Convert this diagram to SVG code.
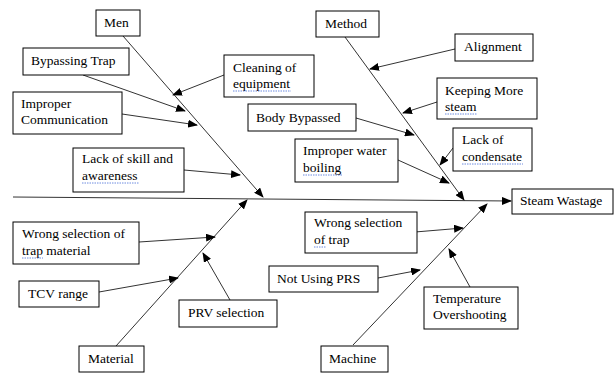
<svg xmlns="http://www.w3.org/2000/svg" width="614" height="374" viewBox="0 0 614 374">
<style>
.box{fill:#fff;stroke:#000;stroke-width:1}
text{font-size:13.5px;fill:#000}
.s{font-family:"Liberation Serif"}
.c{stroke:#333;stroke-width:1;fill:none;marker-end:url(#ah)}
.sq{stroke:#4a6fd8;stroke-width:0.8;fill:none;stroke-dasharray:1.5 1}
</style>
<defs>
<marker id="ah" markerUnits="userSpaceOnUse" markerWidth="10" markerHeight="8" refX="9" refY="4" orient="auto">
<path d="M0,0 L10,4 L0,8 Z" fill="#000"/>
</marker>
</defs>
<rect width="614" height="374" fill="#fff"/>
<g id="connectors">
<line class="c" x1="13" y1="197" x2="511" y2="201"/>
<line class="c" x1="123" y1="36" x2="263" y2="197"/>
<line class="c" x1="345" y1="37" x2="464" y2="200"/>
<line class="c" x1="116" y1="346" x2="247" y2="200"/>
<line class="c" x1="353" y1="345" x2="487" y2="204"/>
<line class="c" x1="224" y1="75" x2="173" y2="95"/>
<line class="c" x1="83" y1="75" x2="185" y2="111"/>
<line class="c" x1="122" y1="114" x2="197" y2="125"/>
<line class="c" x1="184" y1="170" x2="240" y2="175"/>
<line class="c" x1="455" y1="49" x2="370" y2="69"/>
<line class="c" x1="437" y1="102" x2="403" y2="113"/>
<line class="c" x1="356" y1="118" x2="414" y2="135"/>
<line class="c" x1="453" y1="148" x2="440" y2="165"/>
<line class="c" x1="398" y1="160" x2="449" y2="183"/>
<line class="c" x1="139" y1="242" x2="215" y2="237"/>
<line class="c" x1="99" y1="292" x2="178" y2="278"/>
<line class="c" x1="230" y1="300" x2="203" y2="253"/>
<line class="c" x1="415" y1="232" x2="463" y2="228"/>
<line class="c" x1="378" y1="278" x2="420" y2="270"/>
<line class="c" x1="470" y1="287" x2="449" y2="249"/>
</g>
<g id="men"><rect class="box" x="96" y="10" width="44" height="26"/><text class="s" style="font-family:'Liberation Serif'" x="104" y="27">Men</text></g>
<g id="bypassing-trap"><rect class="box" x="23" y="48" width="106" height="27"/><text class="s" style="font-family:'Liberation Serif'" x="31" y="65">Bypassing Trap</text></g>
<g id="cleaning"><rect class="box" x="224" y="55" width="90" height="42"/><text class="s" style="font-family:'Liberation Serif'" x="233" y="72">Cleaning of</text><text class="s" style="font-family:'Liberation Serif'" x="233" y="88">equipment</text><path class="sq" d="M233,91 h58"/></g>
<g id="improper-comm"><rect class="box" x="13" y="92" width="109" height="42"/><text class="s" style="font-family:'Liberation Serif'" x="21" y="108">Improper</text><text class="s" style="font-family:'Liberation Serif'" x="21" y="124">Communication</text></g>
<g id="lack-skill"><rect class="box" x="73" y="148" width="111" height="44"/><text class="s" style="font-family:'Liberation Serif'" x="82" y="163">Lack of skill and</text><text class="s" style="font-family:'Liberation Serif'" x="82" y="180">awareness</text><path class="sq" d="M82,183 h57"/></g>
<g id="method"><rect class="box" x="316" y="11" width="63" height="26"/><text class="s" style="font-family:'Liberation Serif'" x="325" y="28">Method</text></g>
<g id="alignment"><rect class="box" x="455" y="34" width="78" height="27"/><text class="s" style="font-family:'Liberation Serif'" x="464" y="51">Alignment</text></g>
<g id="keeping"><rect class="box" x="437" y="78" width="100" height="41"/><text class="s" style="font-family:'Liberation Serif'" x="445" y="95">Keeping More</text><text class="s" style="font-family:'Liberation Serif'" x="445" y="111">steam</text><path class="sq" d="M445,114 h32"/></g>
<g id="body-bypassed"><rect class="box" x="248" y="104" width="108" height="27"/><text class="s" style="font-family:'Liberation Serif'" x="256" y="122">Body Bypassed</text></g>
<g id="lack-condensate"><rect class="box" x="453" y="128" width="79" height="43"/><text class="s" style="font-family:'Liberation Serif'" x="462" y="144">Lack of</text><text class="s" style="font-family:'Liberation Serif'" x="462" y="161">condensate</text><path class="sq" d="M462,164 h61"/></g>
<g id="improper-water"><rect class="box" x="295" y="139" width="103" height="43"/><text class="s" style="font-family:'Liberation Serif'" x="303" y="155">Improper water</text><text class="s" style="font-family:'Liberation Serif'" x="303" y="172">boiling</text><path class="sq" d="M303,175 h39"/></g>
<g id="steam-wastage"><rect class="box" x="512" y="189" width="101" height="25"/><text class="s" style="font-family:'Liberation Serif'" x="520" y="205">Steam Wastage</text></g>
<g id="wrong-trap-material"><rect class="box" x="13" y="222" width="126" height="42"/><text class="s" style="font-family:'Liberation Serif'" x="22" y="238">Wrong selection of</text><text class="s" style="font-family:'Liberation Serif'" x="22" y="255">trap material</text><path class="sq" d="M22,258 h21"/></g>
<g id="tcv"><rect class="box" x="19" y="281" width="80" height="26"/><text class="s" style="font-family:'Liberation Serif'" x="28" y="298">TCV range</text></g>
<g id="prv"><rect class="box" x="179" y="300" width="98" height="27"/><text class="s" style="font-family:'Liberation Serif'" x="188" y="317">PRV selection</text></g>
<g id="material"><rect class="box" x="79" y="346" width="65" height="26"/><text class="s" style="font-family:'Liberation Serif'" x="88" y="363">Material</text></g>
<g id="wrong-trap"><rect class="box" x="305" y="212" width="112" height="41"/><text class="s" style="font-family:'Liberation Serif'" x="314" y="227">Wrong selection</text><text class="s" style="font-family:'Liberation Serif'" x="314" y="244">of trap</text><path class="sq" d="M314,247 h12"/></g>
<g id="not-using-prs"><rect class="box" x="269" y="266" width="109" height="26"/><text class="s" style="font-family:'Liberation Serif'" x="277" y="283">Not Using PRS</text></g>
<g id="temperature"><rect class="box" x="424" y="287" width="94" height="42"/><text class="s" style="font-family:'Liberation Serif'" x="433" y="303">Temperature</text><text class="s" style="font-family:'Liberation Serif'" x="433" y="319">Overshooting</text></g>
<g id="machine"><rect class="box" x="321" y="346" width="67" height="26"/><text class="s" style="font-family:'Liberation Serif'" x="329" y="363">Machine</text></g>
</svg>
